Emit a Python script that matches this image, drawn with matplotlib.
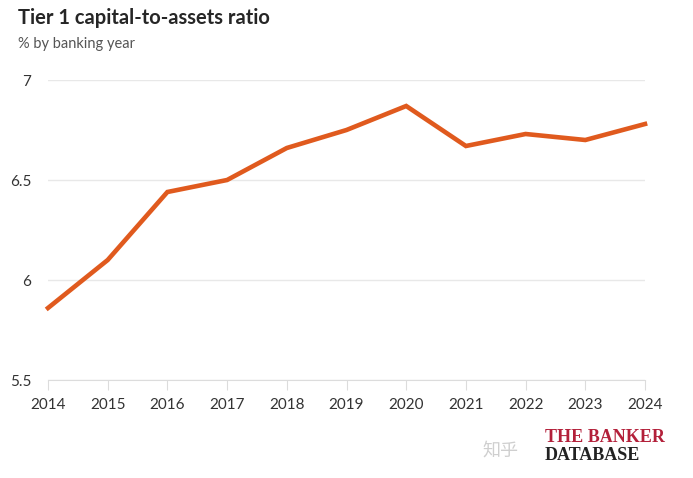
import matplotlib.pyplot as plt

years = [2014, 2015, 2016, 2017, 2018, 2019, 2020, 2021, 2022, 2023, 2024]
ratio = [5.86, 6.10, 6.44, 6.50, 6.66, 6.75, 6.87, 6.67, 6.73, 6.70, 6.78]
y_ticks = [5.5, 6, 6.5, 7]
y_labels = ['5.5', '6', '6.5', '7']

plt.rcParams['font.family'] = ['Lato', 'Noto Sans CJK SC', 'DejaVu Sans']

fig = plt.figure(figsize=(6.93, 4.78), dpi=100)
ax = fig.add_axes([48 / 693, 1 - 380 / 478, (645 - 48) / 693, 300 / 478])

ax.plot(years, ratio, color='#e05a1e', linewidth=3.3, solid_joinstyle='miter', clip_on=False, zorder=3)

ax.set_xlim(2014, 2024)
ax.set_ylim(5.5, 7)
ax.set_yticks(y_ticks)
ax.set_yticklabels(y_labels)
ax.set_xticks(years)
ax.set_xticklabels([str(y) for y in years])

ax.grid(True, axis='y', color='#e8e8e8', linewidth=1)
ax.set_axisbelow(True)
for s in ['top', 'right', 'left']:
    ax.spines[s].set_visible(False)
ax.spines['bottom'].set_color('#dcdcdc')
ax.tick_params(axis='y', length=0, pad=12, labelsize=11, labelcolor='#333333')
ax.tick_params(axis='x', length=7, color='#dcdcdc', pad=6, labelsize=11, labelcolor='#333333')

fig.text(18 / 693, 1 - 18 / 478, 'Tier 1 capital-to-assets ratio', fontsize=14.5, fontweight='bold',
         color='#262626', va='center', ha='left')
fig.text(18 / 693, 1 - 44 / 478, '% by banking year', fontsize=10.5, color='#555555', va='center', ha='left')

# logo and watermark
fig.text(482 / 693, 1 - 450 / 478, '知乎', fontsize=13, color='#cfcfcf', va='center', ha='left')
fig.text(545 / 693, 1 - 437 / 478, 'THE BANKER', fontsize=13, fontweight='bold', color='#b3203a',
         family='Liberation Serif', va='center', ha='left')
fig.text(545 / 693, 1 - 456 / 478, 'DATABASE', fontsize=13, fontweight='bold', color='#222222',
         family='Liberation Serif', va='center', ha='left')

fig.savefig('out.png', dpi=100, facecolor='white')
